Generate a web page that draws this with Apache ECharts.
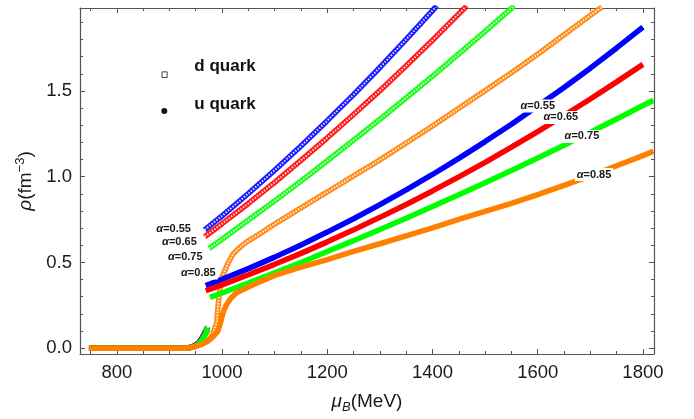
<!DOCTYPE html>
<html><head><meta charset="utf-8">
<script src="https://cdn.jsdelivr.net/npm/echarts@6/dist/echarts.min.js"></script>
<style>html,body{margin:0;padding:0;background:#fff}#c{width:694px;height:419px}</style>
</head><body><div id="c"></div>
<script>
// ---- tick values ----
const xMajor = [800, 1000, 1200, 1400, 1600, 1800];
const xMinor = [750, 850, 900, 950, 1050, 1100, 1150, 1250, 1300, 1350, 1450, 1500, 1550, 1650, 1700, 1750];
const yMajor = [0, 0.5, 1.0, 1.5];
const yMinor = [0.1, 0.2, 0.3, 0.4, 0.6, 0.7, 0.8, 0.9, 1.1, 1.2, 1.3, 1.4, 1.6, 1.7, 1.8, 1.9];

const alphas = ['0.55', '0.65', '0.75', '0.85'];
const colors = ['#0000ff', '#ff0000', '#00ff00', '#ff8000'];

// ---- low-density branch (alpha = 0.55, 0.65, 0.75) ----
const lowX = [747, 800, 850, 900, 935, 945, 955, 962, 968, 973];
const uLow055 = [0, 0, 0, 0, 0, 0.009, 0.028, 0.055, 0.085, 0.110];
const uLow065 = [0, 0, 0, 0, 0, 0.008, 0.026, 0.052, 0.082, 0.108];
const uLow075 = [0, 0, 0, 0, 0, 0.007, 0.024, 0.048, 0.078, 0.112];
const dLow055 = [0, 0, 0, 0, 0, 0.010, 0.030, 0.060, 0.095, 0.125];
const dLow065 = [0, 0, 0, 0, 0, 0.009, 0.028, 0.057, 0.092, 0.122];
const dLow075 = [0, 0, 0, 0, 0, 0.008, 0.026, 0.053, 0.088, 0.125];

// ---- u quark (high-density branch) ----
const uX055 = [969, 1000, 1050, 1100, 1150, 1200, 1250, 1300, 1350, 1400, 1450, 1500, 1550, 1600, 1650, 1700, 1750, 1800];
const uY055 = [0.365, 0.402, 0.464, 0.531, 0.602, 0.677, 0.755, 0.837, 0.923, 1.013, 1.107, 1.205, 1.306, 1.412, 1.520, 1.633, 1.751, 1.872];
const uX065 = [969, 1000, 1050, 1100, 1150, 1200, 1250, 1300, 1350, 1400, 1450, 1500, 1550, 1600, 1650, 1700, 1750, 1800];
const uY065 = [0.335, 0.369, 0.428, 0.489, 0.553, 0.620, 0.690, 0.763, 0.838, 0.917, 0.999, 1.084, 1.172, 1.263, 1.357, 1.453, 1.553, 1.655];
const uX075 = [977, 1000, 1050, 1100, 1150, 1200, 1250, 1300, 1350, 1400, 1450, 1500, 1550, 1600, 1650, 1700, 1750, 1800, 1820];
const uY075 = [0.296, 0.322, 0.380, 0.439, 0.500, 0.564, 0.627, 0.692, 0.758, 0.826, 0.895, 0.965, 1.036, 1.109, 1.184, 1.259, 1.337, 1.415, 1.446];
const uX085 = [747, 800, 850, 900, 930, 945, 960, 975, 985, 992, 997, 1001, 1005, 1009, 1018, 1028, 1047, 1070,
  1100, 1150, 1200, 1250, 1300, 1350, 1400, 1450, 1500, 1550, 1600, 1650, 1700, 1750, 1800, 1820];
const uY085 = [0, 0, 0, 0, 0, 0.005, 0.020, 0.044, 0.074, 0.099, 0.148, 0.197, 0.232, 0.256, 0.296, 0.325, 0.353, 0.384,
  0.424, 0.473, 0.517, 0.564, 0.609, 0.655, 0.702, 0.751, 0.798, 0.845, 0.895, 0.949, 1.005, 1.064, 1.123, 1.149];

// ---- d quark (high-density branch) ----
const dX055 = [967, 1000, 1050, 1100, 1150, 1200, 1250, 1300, 1350, 1400, 1408];
const dY055 = [0.690, 0.772, 0.902, 1.038, 1.179, 1.327, 1.479, 1.637, 1.801, 1.969, 1.997];
const dX065 = [967, 1000, 1050, 1100, 1150, 1200, 1250, 1300, 1350, 1400, 1450, 1465];
const dY065 = [0.650, 0.726, 0.844, 0.967, 1.095, 1.227, 1.363, 1.502, 1.647, 1.796, 1.950, 1.996];
const dX075 = [975, 1000, 1050, 1100, 1150, 1200, 1250, 1300, 1350, 1400, 1450, 1500, 1550, 1555];
const dY075 = [0.581, 0.635, 0.747, 0.859, 0.974, 1.093, 1.213, 1.335, 1.460, 1.586, 1.716, 1.848, 1.982, 1.996];
const dX085 = [747, 800, 850, 900, 930, 945, 960, 975, 983, 986, 990, 991, 993, 996, 1000, 1011, 1020, 1030, 1040, 1050, 1070,
  1100, 1150, 1200, 1250, 1300, 1350, 1400, 1450, 1500, 1550, 1600, 1650, 1700, 1722];
const dY085 = [0, 0, 0, 0, 0, 0.010, 0.025, 0.049, 0.084, 0.113, 0.148, 0.197, 0.266, 0.345, 0.414, 0.493, 0.545, 0.578, 0.604, 0.626, 0.664,
  0.724, 0.818, 0.911, 1.005, 1.098, 1.197, 1.296, 1.399, 1.502, 1.606, 1.714, 1.828, 1.941, 1.990];

// ---- curve annotations (data coordinates) ----
const labelLeftX = [908, 919, 930, 955];
const labelLeftY = [0.694, 0.620, 0.534, 0.438];
const labelRightX = [1600, 1644, 1684, 1707];
const labelRightY = [1.412, 1.346, 1.235, 1.013];

const zip = (xs, ys) => xs.map((x, i) => [x, ys[i]]);
const FONT = '"Liberation Sans", Arial, sans-serif';
const AX = '#555';
const TXT = '#1a1a1a';

const series = [];
function dSeries(xs, ys, color) {
  series.push({ name: 'd quark', type: 'line', data: zip(xs, ys), showSymbol: false, symbol: 'none',
    lineStyle: { color: color, width: 5.5, opacity: 0.9 }, itemStyle: { color: color }, z: 2, silent: true });
  series.push({ name: 'd quark', type: 'line', data: zip(xs, ys), showSymbol: false, symbol: 'none',
    lineStyle: { color: '#fff', width: 2, type: [1.5, 1.5], opacity: 0.85 }, z: 3, silent: true });
}
function uSeries(xs, ys, color) {
  series.push({ name: 'u quark', type: 'line', data: zip(xs, ys), showSymbol: false, symbol: 'none',
    lineStyle: { color: color, width: 5.5 }, itemStyle: { color: color }, z: 4, silent: true });
}
// low branches
dSeries(lowX, dLow055, colors[0]);
dSeries(lowX, dLow065, colors[1]);
dSeries(lowX, dLow075, colors[2]);
uSeries(lowX, uLow055, colors[0]);
uSeries(lowX, uLow065, colors[1]);
uSeries(lowX, uLow075, colors[2]);
// high branches
dSeries(dX055, dY055, colors[0]);
dSeries(dX065, dY065, colors[1]);
dSeries(dX075, dY075, colors[2]);
dSeries(dX085, dY085, colors[3]);
uSeries(uX055, uY055, colors[0]);
uSeries(uX065, uY065, colors[1]);
uSeries(uX075, uY075, colors[2]);
uSeries(uX085, uY085, colors[3]);

const labelRich = {
  g: { fontFamily: FONT, fontSize: 11, fontWeight: 'bold', fontStyle: 'italic', color: TXT, opacity: 1 },
  t: { fontFamily: FONT, fontSize: 11, fontWeight: 'bold', color: TXT, opacity: 1 }
};
const labData = [];
alphas.forEach((a, i) => {
  labData.push({ value: [labelLeftX[i], labelLeftY[i]], name: a });
  labData.push({ value: [labelRightX[i], labelRightY[i]], name: a });
});
series.push({
  name: 'labels', type: 'scatter', data: labData, symbolSize: 1, itemStyle: { color: '#fff', opacity: 1 },
  z: 10, silent: true,
  label: { show: true, position: 'inside', opacity: 1, formatter: p => '{g|α}{t|=' + p.name + '}', rich: labelRich,
    color: TXT, backgroundColor: '#fff', padding: [1, 2, 1, 2] }
});

function xAx(pos, values, len, showLine, showLabel, extra) {
  return Object.assign({
    type: 'value', position: pos, min: 730, max: 1821, gridIndex: 0,
    axisLine: { show: showLine, onZero: false, lineStyle: { color: AX, width: 1.2 } },
    axisTick: { show: true, inside: true, length: len, customValues: values, lineStyle: { color: AX, width: 1 } },
    axisLabel: { show: showLabel, customValues: values, fontFamily: FONT, fontSize: 18.5, color: TXT, margin: 9,
      formatter: v => String(v) },
    splitLine: { show: false }
  }, extra || {});
}
function yAx(pos, values, len, showLine, showLabel, extra) {
  return Object.assign({
    type: 'value', position: pos, min: -0.034, max: 1.984, gridIndex: 0,
    axisLine: { show: showLine, onZero: false, lineStyle: { color: AX, width: 1.2 } },
    axisTick: { show: true, inside: true, length: len, customValues: values, lineStyle: { color: AX, width: 1 } },
    axisLabel: { show: showLabel, customValues: values, fontFamily: FONT, fontSize: 18.5, color: TXT, margin: 8,
      formatter: v => v.toFixed(1) },
    splitLine: { show: false }
  }, extra || {});
}

const option = {
  animation: false,
  backgroundColor: '#fff',
  grid: { left: 80, right: 40, top: 8, bottom: 56, containLabel: false },
  legend: {
    orient: 'vertical', left: 156, top: 50, itemGap: 16.5, itemWidth: 6, itemHeight: 22,
    textStyle: { fontFamily: FONT, fontSize: 17, fontWeight: 'bold', color: '#111', lineHeight: 20, padding: [0, 0, 0, 22] },
    data: [
      { name: 'd quark', icon: 'path://M0,0 M0.5,16 L5.5,16 L5.5,21.5 L0.5,21.5 Z',
        itemStyle: { color: '#fff', borderColor: '#444', borderWidth: 1 } },
      { name: 'u quark', icon: 'path://M0,0 M3,13 A3,3 0 1,1 3,19 A3,3 0 1,1 3,13 Z',
        itemStyle: { color: '#111', borderWidth: 0 } }
    ]
  },
  xAxis: [
    xAx('bottom', xMajor, 5, true, true, {
      name: '{i|μ}{s|B}{n|(MeV)}', nameLocation: 'middle', nameGap: 36,
      nameTextStyle: { rich: {
        i: { fontFamily: FONT, fontSize: 19, fontStyle: 'italic', color: TXT, lineHeight: 24 },
        s: { fontFamily: FONT, fontSize: 13, fontStyle: 'italic', color: TXT, verticalAlign: 'bottom', lineHeight: 24 },
        n: { fontFamily: FONT, fontSize: 19, color: TXT, lineHeight: 24 } } }
    }),
    xAx('bottom', xMinor, 3, false, false),
    xAx('top', xMajor, 5, true, false),
    xAx('top', xMinor, 3, false, false)
  ],
  yAxis: [
    yAx('left', yMajor, 5, true, true, {
      name: '{i|ρ}{n|(fm}{p|−3}{n|)}', nameLocation: 'middle', nameGap: 36, nameRotate: 90,
      nameTextStyle: { rich: {
        i: { fontFamily: FONT, fontSize: 19, fontStyle: 'italic', color: TXT, lineHeight: 24 },
        p: { fontFamily: FONT, fontSize: 13, color: TXT, verticalAlign: 'top', lineHeight: 24 },
        n: { fontFamily: FONT, fontSize: 19, color: TXT, lineHeight: 24 } } }
    }),
    yAx('left', yMinor, 3, false, false),
    yAx('right', yMajor, 5, true, false),
    yAx('right', yMinor, 3, false, false)
  ],
  series: series
};
const chart = echarts.init(document.getElementById('c'), null, { renderer: 'canvas' });
chart.setOption(option);
</script>
</body></html>
